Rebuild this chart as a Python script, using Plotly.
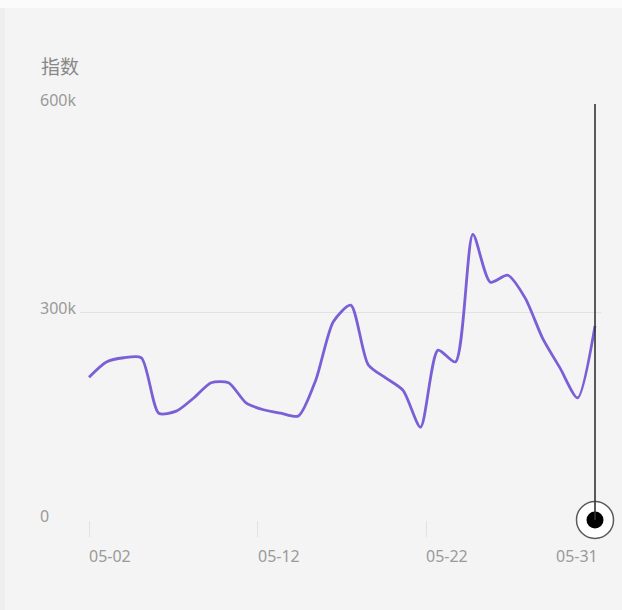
import plotly.graph_objects as go

# ---- data ----
dates = ["05-%02d" % d for d in range(2, 32)]
values = [206000, 228000, 234000, 234000, 154000, 157000, 176000, 198000, 198000, 169000,
          159000, 154000, 150000, 202000, 286000, 310000, 224000, 205000, 187000, 134000,
          245000, 228000, 412000, 343000, 353000, 320000, 262000, 219000, 176000, 280000]
y_ticks = [0, 300000, 600000]
y_tick_labels = ["0", "300k", "600k"]
y_title = "指数"

W, H = 622, 610
L, R, T, B = 80, 21, 104, 90
pw = W - L - R
ph = H - T - B

n = len(dates)
xs = list(range(n))
last = n - 1
# ticks evenly spaced across the data span (thirds), labelled with the dates
tick_pos = [0, last / 3, 2 * last / 3, last]
tick_idx = [0, 10, 20, last]
tick_labels = [dates[i] for i in tick_idx]

line_color = "#7a5fd6"
text_color = "#9a9a9a"
grid_color = "#e2e2e2"

fig = go.Figure()
fig.add_trace(go.Scatter(
    x=xs, y=values, mode="lines",
    line=dict(color=line_color, width=2.8, shape="spline", smoothing=0.7),
    hoverinfo="skip", showlegend=False,
))
# crosshair marker at the axis for the last point
fig.add_trace(go.Scatter(
    x=[last], y=[0], mode="markers", cliponaxis=False,
    marker=dict(size=37, color="white", line=dict(color="#5a5a5a", width=1.5)),
    hoverinfo="skip", showlegend=False,
))
fig.add_trace(go.Scatter(
    x=[last], y=[0], mode="markers", cliponaxis=False,
    marker=dict(size=17, color="black", line=dict(width=0)),
    hoverinfo="skip", showlegend=False,
))

xr = [-0.516, last + 0.344]

fig.update_layout(
    width=W, height=H,
    margin=dict(l=L, r=R, t=T, b=B, pad=0),
    paper_bgcolor="#f4f4f4", plot_bgcolor="#f4f4f4",
    font=dict(family="Noto Sans, Noto Sans CJK SC, sans-serif", color=text_color),
    xaxis=dict(range=xr, showgrid=False, zeroline=False, showline=False,
               tickmode="array", tickvals=tick_pos[:3], ticks="outside",
               ticklen=16, tickcolor=grid_color, tickwidth=1,
               showticklabels=False, fixedrange=True),
    yaxis=dict(range=[0, 600000], tickmode="array", tickvals=y_ticks,
               showgrid=True, gridcolor=grid_color, gridwidth=1,
               zeroline=False, showticklabels=False, showline=False, fixedrange=True),
    shapes=[
        dict(type="line", xref="x", yref="y", x0=last, x1=last, y0=0, y1=600000,
             line=dict(color="#333333", width=1.6), layer="above"),
        dict(type="rect", xref="paper", yref="paper",
             x0=-L / pw, x1=(W - L) / pw, y0=(H - B) / ph, y1=(H - B - 8) / ph,
             fillcolor="#fbfbfb", line=dict(width=0), layer="below"),
        dict(type="rect", xref="paper", yref="paper",
             x0=-L / pw, x1=(5 - L) / pw, y0=(H - B - 8) / ph, y1=-B / ph,
             fillcolor="#eeeeee", line=dict(width=0), layer="below"),
    ],
)

ann = []
ann.append(dict(text=y_title, xref="paper", yref="paper", x=(39 - L) / pw,
                y=(H - B - 67) / ph, xanchor="left", yanchor="middle",
                showarrow=False, font=dict(size=19, color="#888888")))
for v, lab in zip(y_ticks, y_tick_labels):
    ann.append(dict(text=lab, xref="paper", yref="y", x=(38 - L) / pw, y=v,
                    xanchor="left", yanchor="middle", yshift=4, showarrow=False,
                    font=dict(size=16, color=text_color)))
for i, (p, lab) in enumerate(zip(tick_pos, tick_labels)):
    is_last = i == len(tick_pos) - 1
    ann.append(dict(text=lab, xref="x", yref="paper", x=p, y=-36 / ph,
                    xanchor="right" if is_last else "left", yanchor="middle",
                    xshift=5 if is_last else -2, showarrow=False,
                    font=dict(size=16, color=text_color)))
fig.update_layout(annotations=ann)

fig.write_html("out.html")
